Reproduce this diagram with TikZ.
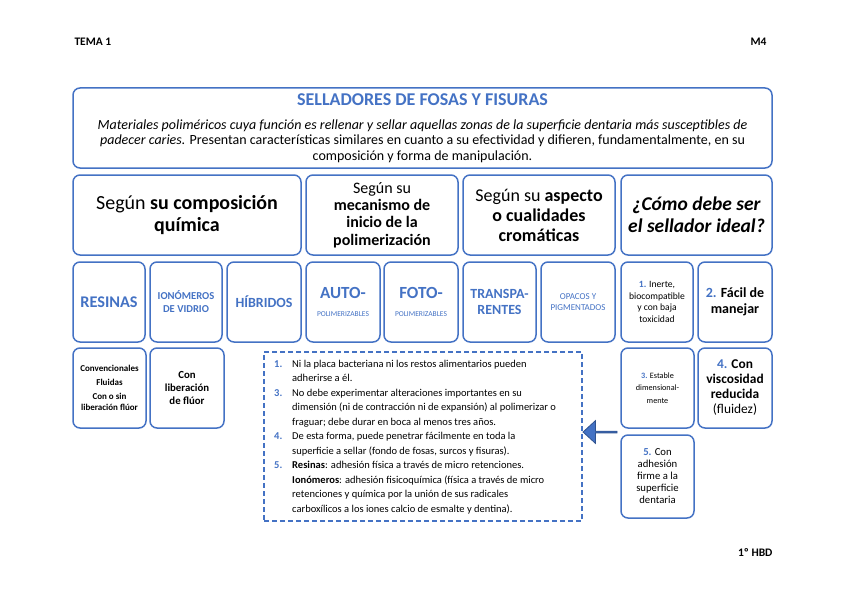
\documentclass[tikz,border=0pt]{standalone}
\usepackage{fontspec}
\setmainfont{Carlito}
\usepackage{xcolor}
\usetikzlibrary{shapes.arrows}
\definecolor{azul}{HTML}{4472C4}
\definecolor{azuloscuro}{HTML}{2F528F}
\newcommand{\fs}[2]{\fontsize{#1}{#2}\selectfont}
\newcommand{\num}[1]{\textcolor{azul}{\textbf{#1}}}
\newcommand{\numlista}[1]{\makebox[18pt][l]{\num{#1}}}
\newcommand{\sangria}{\hspace*{18pt}}
\tikzset{
  caja/.style={draw=azul, line width=1.5pt, rounded corners=7pt, align=center,
    inner sep=1pt, minimum height=80pt},
  azulb/.style={text=azul, font=\bfseries},
}

\begin{document}
\begin{tikzpicture}[x=1pt,y=-1pt]
\useasboundingbox (0,0) rectangle (848,599);

% Cabecera y pie
\node[anchor=west, font=\fs{11.5}{13}\bfseries] (tema) at (71,42) {TEMA 1};
\node[anchor=east, font=\fs{11.5}{13}\bfseries] (modulo) at (770,42) {M4};
\node[anchor=east, font=\fs{11.5}{13}\bfseries] (curso) at (776,553) {1º HBD};

% Definicion
\node[caja, minimum width=699pt, font=\fs{14}{15.5}] (intro) at (422.5,128)
  {{\fs{18}{20}\bfseries\color{azul}SELLADORES DE FOSAS Y FISURAS}\\[8pt]
   \itshape Materiales poliméricos cuya función es rellenar y sellar aquellas zonas de la superficie dentaria más susceptibles de\\
   \itshape padecer caries. \upshape Presentan características similares en cuanto a su efectividad y difieren, fundamentalmente, en su\\
   composición y forma de manipulación.};

% Criterios de clasificacion
\node[caja, minimum width=228pt, font=\fs{20}{22}] (quimica) at (187,215)
  {Según \textbf{su composición}\\\textbf{química}};
\node[caja, minimum width=152pt, font=\fs{16}{17.3}] (mecanismo) at (382,215)
  {Según su\\\textbf{mecanismo de}\\\textbf{inicio de la}\\\textbf{polimerización}};
\node[caja, minimum width=152pt, font=\fs{18}{20}] (aspecto) at (539,215)
  {Según su \textbf{aspecto}\\\textbf{o cualidades}\\\textbf{cromáticas}};
\node[caja, minimum width=151pt, font=\fs{19.5}{22}\bfseries\itshape] (ideal) at (696.5,215)
  {¿Cómo debe ser\\el sellador ideal?};

% Tipos
\node[caja, azulb, minimum width=72pt, font=\fs{16.3}{18}\bfseries] (resinas) at (109,302) {RESINAS};
\node[caja, azulb, minimum width=72pt, font=\fs{10.6}{13}\bfseries] (ionomeros) at (186,302) {IONÓMEROS\\DE VIDRIO};
\node[caja, azulb, minimum width=74pt, font=\fs{14}{17}\bfseries] (hibridos) at (264,302) {HÍBRIDOS};
\node[caja, text=azul, minimum width=74pt, font=\fs{7.5}{9}] (auto) at (343,302)
  {{\fs{17}{19}\bfseries AUTO-}\\[9pt]POLIMERIZABLES};
\node[caja, text=azul, minimum width=74pt, font=\fs{7.5}{9}] (foto) at (421,302)
  {{\fs{17}{19}\bfseries FOTO-}\\[9pt]POLIMERIZABLES};
\node[caja, azulb, minimum width=73pt, font=\fs{14}{16}\bfseries] (transp) at (499.5,302) {TRANSPA-\\RENTES};
\node[caja, text=azul, minimum width=74pt, font=\fs{9}{10.5}] (opacos) at (578,302) {OPACOS Y\\PIGMENTADOS};
\node[caja, minimum width=72pt, font=\fs{9.6}{11.7}] (inerte) at (657,302)
  {\num{1.} Inerte,\\biocompatible\\y con baja\\toxicidad};
\node[caja, minimum width=74pt, font=\fs{14}{16}\bfseries] (facil) at (735,302)
  {\textcolor{azul}{2.} Fácil de\\manejar};

% Subtipos y propiedades
\node[caja, minimum width=73pt, font=\fs{9}{14}\bfseries] (convencionales) at (109.5,388)
  {Convencionales\\Fluidas\\Con o sin\\[-3pt]liberación flúor};
\node[caja, minimum width=74pt, font=\fs{10.8}{13}\bfseries] (fluor) at (187,388)
  {Con\\liberación\\de flúor};
\node[caja, minimum width=73pt, font=\fs{8.2}{12.5}] (estable) at (657.5,388)
  {\num{3.} Estable\\dimensional-\\mente};
\node[caja, minimum width=74pt, font=\fs{13.4}{15}\bfseries] (viscosidad) at (735,388)
  {\textcolor{azul}{4.} Con\\viscosidad\\reducida\\\mdseries(fluidez)};
\node[caja, minimum width=73pt, minimum height=83pt, font=\fs{10.7}{12}] (adhesion) at (657.5,476.5)
  {\num{5.} Con\\adhesión\\firme a la\\superficie\\dentaria};

% Explicacion
\node[draw=azul, line width=1.3pt, dash pattern=on 5pt off 3pt, minimum width=318pt,
  minimum height=169pt] (criterios) at (423,436.5) {};
\node[anchor=west, align=left, inner sep=0pt, font=\fs{10.5}{14.5}] (textocriterios) at (274,437)
  {\numlista{1.}Ni la placa bacteriana ni los restos alimentarios pueden\\
   \sangria adherirse a él.\\
   \numlista{3.}No debe experimentar alteraciones importantes en su\\
   \sangria dimensión (ni de contracción ni de expansión) al polimerizar o\\
   \sangria fraguar; debe durar en boca al menos tres años.\\
   \numlista{4.}De esta forma, puede penetrar fácilmente en toda la\\
   \sangria superficie a sellar (fondo de fosas, surcos y fisuras).\\
   \numlista{5.}\textbf{Resinas}: adhesión física a través de micro retenciones.\\
   \sangria\textbf{Ionómeros}: adhesión fisicoquímica (física a través de micro\\
   \sangria retenciones y química por la unión de sus radicales\\
   \sangria carboxílicos a los iones calcio de esmalte y dentina).};

% Flecha
\node[single arrow, fill=azul, draw=azuloscuro, line width=0.8pt, shape border rotate=180,
  minimum width=23pt, minimum height=34pt, single arrow head extend=5pt,
  single arrow tip angle=85, inner sep=0pt] (flecha) at (600.5,432) {};
\end{tikzpicture}
\end{document}
